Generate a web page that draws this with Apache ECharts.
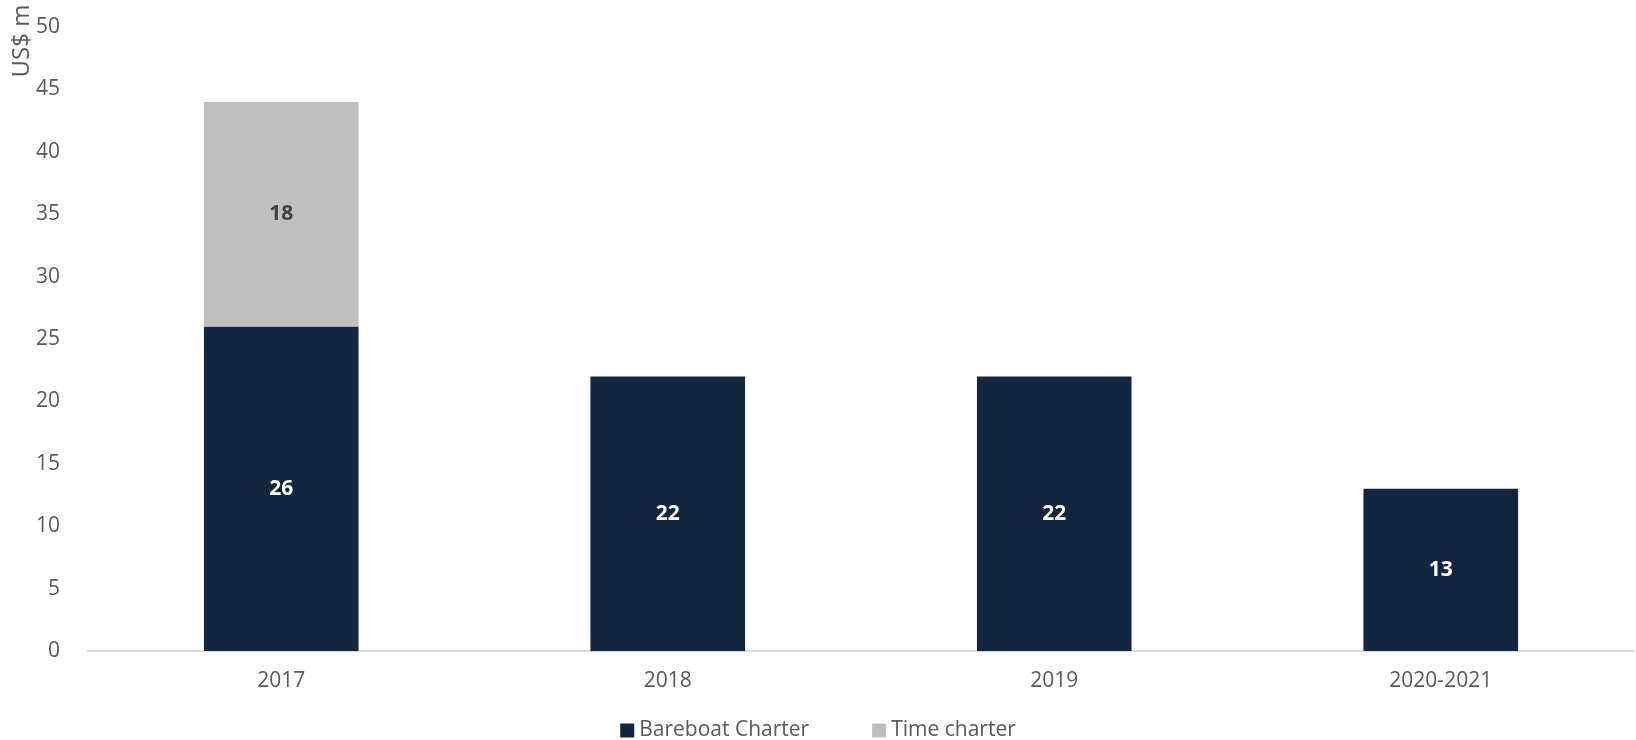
<!DOCTYPE html>
<html>
<head>
<meta charset="utf-8">
<script src="https://cdn.jsdelivr.net/npm/echarts@6/dist/echarts.min.js"></script>
<style>html,body{margin:0;padding:0;background:#fff}#c{width:1636px;height:740px}</style>
</head>
<body>
<div id="c"></div>
<script>
const categories = ['2017', '2018', '2019', '2020-2021'];
const bareboat = [26, 22, 22, 13];
const timeCharter = [18, null, null, null];
const yTicks = { min: 0, max: 50, interval: 5 };

const chart = echarts.init(document.getElementById('c'));
const font = 'Open Sans';
chart.setOption({
  animation: false,
  textStyle: { fontFamily: font },
  grid: { left: 88, right: 2, top: 27, bottom: 89, containLabel: false },
  xAxis: {
    type: 'category',
    data: categories,
    axisLine: { lineStyle: { color: '#d9d9d9', width: 2 } },
    axisTick: { show: false },
    axisLabel: { color: '#595959', fontSize: 21, margin: 20, fontFamily: font }
  },
  yAxis: {
    type: 'value',
    min: yTicks.min, max: yTicks.max, interval: yTicks.interval,
    splitLine: { show: false },
    axisLine: { show: false },
    axisTick: { show: false },
    axisLabel: { color: '#595959', fontSize: 21, margin: 28, fontFamily: font }
  },
  legend: {
    left: 'center', top: 715,
    itemWidth: 14, itemHeight: 14, itemGap: 63,
    icon: 'rect',
    textStyle: { color: '#595959', fontSize: 21, fontFamily: font },
    data: ['Bareboat Charter', 'Time charter']
  },
  graphic: [{
    type: 'text', x: 22, y: 41, rotation: Math.PI / 2,
    style: { text: 'US$ m', fill: '#595959', font: '24px "Open Sans"', textAlign: 'center', textVerticalAlign: 'middle' }
  }],
  series: [
    {
      name: 'Bareboat Charter', type: 'bar', stack: 's', barWidth: '40%',
      data: bareboat,
      itemStyle: { color: '#132640' },
      label: { show: true, position: 'inside', color: '#ffffff', fontWeight: 'bold', fontSize: 21, fontFamily: font }
    },
    {
      name: 'Time charter', type: 'bar', stack: 's', barWidth: '40%',
      data: timeCharter,
      itemStyle: { color: '#bfbfbf' },
      label: { show: true, position: 'inside', color: '#404040', fontWeight: 'bold', fontSize: 21, fontFamily: font }
    }
  ]
});
</script>
</body>
</html>
